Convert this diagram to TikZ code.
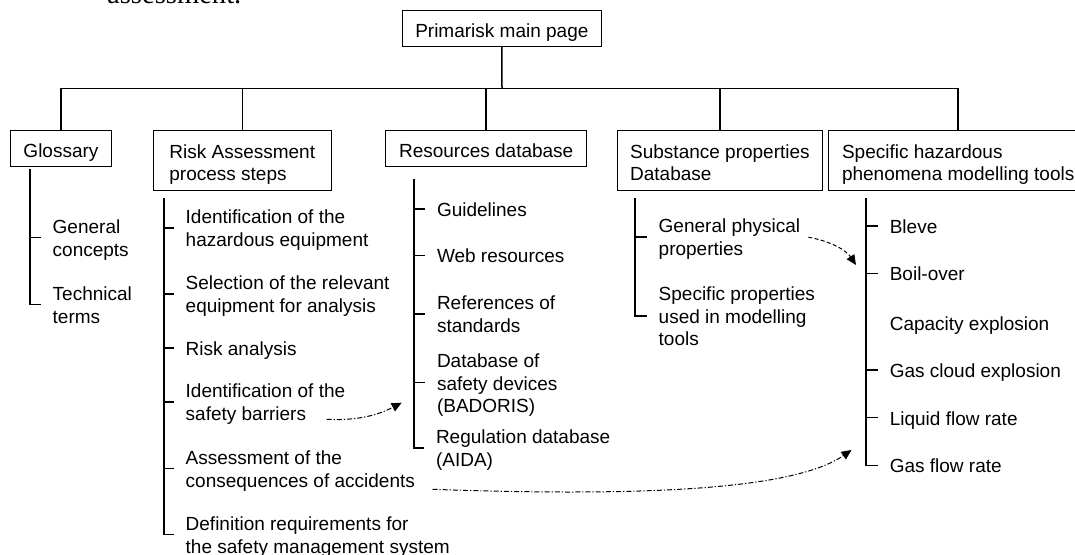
\documentclass[tikz,border=0pt]{standalone}
\usepackage{fontspec}
\setmainfont{Liberation Sans}
\newfontfamily\serifface{Liberation Serif}
\usetikzlibrary{arrows.meta}
\newcommand\itemtext[1]{\raisebox{-1.4pt}[\height][\depth]{\begin{tabular}{@{}l@{}}#1\end{tabular}}}
\newcommand\boxtext[1]{\raisebox{-2.1pt}[\height][\depth]{\begin{tabular}{@{}l@{}}#1\end{tabular}}}
\begin{document}
\begin{tikzpicture}[x=0.5pt,y=-0.5pt,
  font=\fontsize{9.5}{11.4}\selectfont,
  box/.style={draw, line width=0.5pt, inner xsep=6.5pt, inner ysep=0pt},
  item/.style={anchor=west, inner sep=0pt},
  tree/.style={line width=0.75pt},
  arr/.style={line width=0.5pt, -{Triangle[length=5pt,width=4.5pt]}},
  dd/.style={dash pattern=on 2.5pt off 1pt on 0.6pt off 1pt},
  dsh/.style={dash pattern=on 2pt off 1.2pt}]
\useasboundingbox (0,0) rectangle (1075,555);

\node[anchor=base west, inner sep=0pt, font=\serifface\fontsize{14.3}{16}\selectfont] (topline) at (106.7,3.5) {assessment.};

% boxes
\node[box, minimum width=99.65pt, minimum height=17.9pt] (main) at (501.85,28.4) {\boxtext{Primarisk main page}};
\node[box, minimum width=50.25pt, minimum height=17.85pt] (gl) at (60.95,148.85) {\boxtext{Glossary}};
\node[box, minimum width=89.05pt, minimum height=29.65pt] (ri) at (242.25,160.65) {\boxtext{Risk Assessment\\process steps}};
\node[box, minimum width=100.5pt, minimum height=17.85pt] (re) at (486.2,148.85) {\boxtext{Resources database}};
\node[box, minimum width=102.95pt, minimum height=29.65pt] (su) at (719.95,160.65) {\boxtext{Substance properties\\Database}};
\node[box, minimum width=130.2pt, minimum height=29.65pt] (sp) at (958.2,160.65) {\boxtext{Specific hazardous\\phenomena modelling tools}};

% main tree
\coordinate (bus) at (502,88.7);
\draw[tree] (main.south) -- (bus);
\draw[tree] (gl.north) |- (sp.north |- bus) -- (sp.north);
\draw[tree] (ri.north) -- (ri.north |- bus);
\draw[tree] (re.north) -- (re.north |- bus);
\draw[tree] (su.north) -- (su.north |- bus);

% glossary items
\coordinate (gt) at (30,169.3);
\node[item] (g1) at (52.3,237.5) {\itemtext{General\\concepts}};
\node[item] (g2) at (52.3,304.3) {\itemtext{Technical\\terms}};
\draw[tree] (gt) |- ([xshift=-5.75pt]g2.west);
\draw[tree] (gt |- g1.west) -- ([xshift=-5.75pt]g1.west);

% risk items
\coordinate (rt) at (163.9,198.5);
\node[item] (r1) at (185.3,227.8) {\itemtext{Identification of the\\hazardous equipment}};
\node[item] (r2) at (185.3,294) {\itemtext{Selection of the relevant\\equipment for analysis}};
\node[item] (r3) at (185.3,348) {\itemtext{Risk analysis}};
\node[item] (r4) at (185.3,402) {\itemtext{Identification of the\\safety barriers}};
\node[item] (r5) at (185.3,468.3) {\itemtext{Assessment of the\\consequences of accidents}};
\node[item] (r6) at (185.3,534.3) {\itemtext{Definition requirements for\\the safety management system}};
\draw[tree] (rt) |- ([xshift=-5.75pt]r6.west);
\foreach \n in {r1,r2,r3,r4,r5}
  \draw[tree] (rt |- \n.west) -- ([xshift=-5.75pt]\n.west);

% resources items
\coordinate (et) at (413.9,179.3);
\node[item] (e1) at (436.6,209) {\itemtext{Guidelines}};
\node[item] (e2) at (436.6,255.3) {\itemtext{Web resources}};
\node[item] (e3) at (436.6,314) {\itemtext{References of\\standards}};
\node[item] (e4) at (436.6,382.7) {\itemtext{Database of\\safety devices\\(BADORIS)}};
\node[item] (e5) at (435.6,448) {\itemtext{Regulation database\\(AIDA)}};
\draw[tree] (et) |- ([xshift=-5.75pt]e5.west);
\foreach \n in {e1,e2,e3,e4}
  \draw[tree] (et |- \n.west) -- ([xshift=-5.75pt]\n.west);

% substance items
\coordinate (ut) at (634.9,198.5);
\node[item] (s1) at (658.3,237) {\itemtext{General physical\\properties}};
\node[item] (s2) at (658.3,315.8) {\itemtext{Specific properties\\used in modelling\\tools}};
\draw[tree] (ut) |- ([xshift=-5.75pt]s2.west);
\draw[tree] (ut |- s1.west) -- ([xshift=-5.75pt]s1.west);

% specific items
\coordinate (ht) at (866.2,198.5);
\node[item] (h1) at (889.4,225.8) {\itemtext{Bleve}};
\node[item] (h2) at (889.4,273.5) {\itemtext{Boil-over}};
\node[item] (h3) at (889.4,322.7) {\itemtext{Capacity explosion}};
\node[item] (h4) at (889.4,370) {\itemtext{Gas cloud explosion}};
\node[item] (h5) at (889.4,417.7) {\itemtext{Liquid flow rate}};
\node[item] (h6) at (889.4,465.5) {\itemtext{Gas flow rate}};
\draw[tree] (ht) |- ([xshift=-5.75pt]h6.west);
\foreach \n in {h1,h2,h4,h5}
  \draw[tree] (ht |- \n.west) -- ([xshift=-5.75pt]\n.west);

% cross links
\coordinate (a1s) at (326.7,419.3);
\coordinate (a1e) at (401.7,402.7);
\draw[arr,dd] (a1s) .. controls (360,421) and (380,414) .. (a1e);
\coordinate (b1s) at (808.3,237.2);
\coordinate (b1e) at (856,265);
\draw[arr,dsh] (b1s) .. controls (830,241) and (846,250) .. (b1e);
\coordinate (c1s) at (432.5,489.3);
\coordinate (c1e) at (851.5,450);
\draw[arr,dd] (c1s) .. controls (650,497) and (795,489) .. (c1e);
\end{tikzpicture}
\end{document}
